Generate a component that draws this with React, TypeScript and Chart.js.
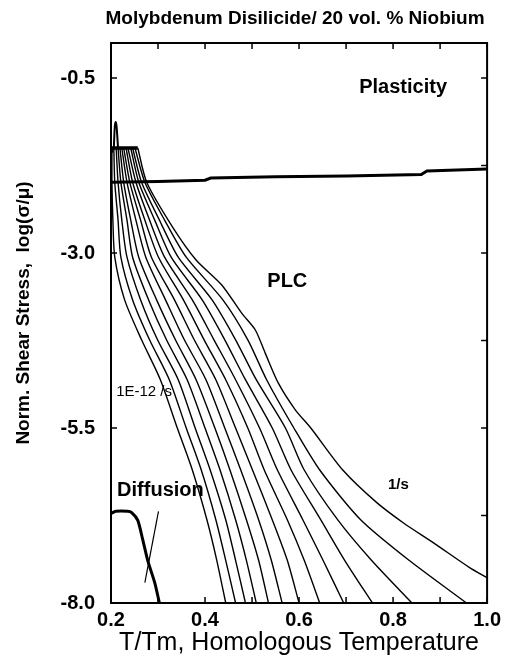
import { useEffect, useRef } from "react";
import { Chart, registerables } from "chart.js";

Chart.register(...registerables);

const FONT = '"Liberation Sans", Arial, Helvetica, sans-serif';

const titleText = "Molybdenum Disilicide/ 20 vol. % Niobium";
const xTitle = "T/Tm, Homologous Temperature";
const yTitle = "Norm. Shear Stress,  log(\u03c3/\u03bc)";

const xLabelTicks = [0.2, 0.4, 0.6, 0.8, 1.0];
const xMinorTicks = [0.2, 0.3, 0.4, 0.5, 0.6, 0.7, 0.8, 0.9, 1.0];
const yLabelTicks = [-8.0, -5.5, -3.0, -0.5];
const yRightTicks = [-8.0, -6.75, -5.5, -4.25, -3.0, -1.75, -0.5];

// stress levels at which the strain-rate contours were read
const rateLevels = [-1.5, -1.99, -2.53, -3.06, -3.67, -4.24, -4.81, -5.5, -6.1, -6.81, -7.39, -8.0];
// homologous temperature of each strain-rate contour at those levels
const rate1em12 = [0.202, 0.202, 0.204, 0.208, 0.229, 0.265, 0.305, 0.341, 0.373, 0.404, 0.425, 0.444];
const rate1em11 = [0.206, 0.208, 0.215, 0.221, 0.246, 0.282, 0.324, 0.36, 0.392, 0.423, 0.444, 0.465];
const rate1em10 = [0.211, 0.215, 0.223, 0.234, 0.263, 0.299, 0.343, 0.379, 0.411, 0.444, 0.465, 0.486];
const rate1em9 = [0.215, 0.221, 0.234, 0.246, 0.28, 0.318, 0.362, 0.4, 0.432, 0.465, 0.488, 0.509];
const rate1em8 = [0.219, 0.227, 0.242, 0.259, 0.297, 0.337, 0.381, 0.421, 0.453, 0.488, 0.514, 0.535];
const rate1em7 = [0.223, 0.234, 0.253, 0.274, 0.316, 0.356, 0.402, 0.442, 0.476, 0.514, 0.541, 0.564];
const rate1em6 = [0.227, 0.24, 0.263, 0.286, 0.335, 0.377, 0.423, 0.465, 0.501, 0.543, 0.575, 0.6];
const rate1em5 = [0.232, 0.246, 0.272, 0.301, 0.354, 0.398, 0.444, 0.491, 0.526, 0.575, 0.611, 0.644];
const rate1em4 = [0.236, 0.253, 0.282, 0.314, 0.373, 0.419, 0.465, 0.516, 0.554, 0.608, 0.651, 0.695];
const rate1em3 = [0.242, 0.259, 0.293, 0.328, 0.394, 0.442, 0.486, 0.543, 0.583, 0.646, 0.697, 0.756];
const rate1em2 = [0.246, 0.265, 0.303, 0.343, 0.415, 0.465, 0.509, 0.571, 0.611, 0.682, 0.754, 0.84];
const rate1em1 = [0.251, 0.272, 0.314, 0.36, 0.438, 0.491, 0.531, 0.589, 0.644, 0.731, 0.834, 0.956];
// the 1/s contour, read point by point
const rate1X = [0.257, 0.276, 0.331, 0.381, 0.436, 0.478, 0.507, 0.528, 0.556, 0.592, 0.625, 0.693, 0.766, 0.823, 0.886, 0.962, 1.0];
const rate1Y = [-1.5, -1.99, -2.63, -3.1, -3.46, -3.86, -4.1, -4.43, -4.86, -5.24, -5.5, -6.1, -6.57, -6.86, -7.14, -7.49, -7.64];

// plasticity boundary
const plastX = [0.2, 0.3, 0.4, 0.412, 0.55, 0.7, 0.86, 0.872, 1.0];
const plastY = [-1.99, -1.98, -1.96, -1.93, -1.91, -1.9, -1.88, -1.83, -1.8];
// plateau and spike at low temperature
const plateauX = [0.2, 0.204, 0.257];
const plateauY = [-1.56, -1.5, -1.5];
const spikeX = [0.206, 0.208, 0.21, 0.212, 0.215];
const spikeY = [-1.5, -1.2, -1.13, -1.2, -1.5];
// diffusion boundary
const diffX = [0.2, 0.21, 0.235, 0.244, 0.257, 0.267, 0.278, 0.293, 0.303];
const diffY = [-6.72, -6.69, -6.69, -6.71, -6.82, -7.08, -7.39, -7.71, -8.0];
// pointer line
const arrowX = [0.272, 0.301];
const arrowY = [-7.71, -6.69];

export default function App() {
  const ref = useRef<HTMLCanvasElement>(null);

  useEffect(() => {
    const canvas = ref.current;
    if (!canvas) return;
    const mk = (xs: number[], ys: number[]) => xs.map((x, i) => ({ x, y: ys[i] }));
    const line = (data: any, width: number, tension = 0.25) => ({
      data,
      borderColor: "#000",
      backgroundColor: "#000",
      borderWidth: width,
      pointRadius: 0,
      showLine: true,
      tension,
      fill: false,
    });
    const rateCurves = [
      rate1em12, rate1em11, rate1em10, rate1em9, rate1em8, rate1em7,
      rate1em6, rate1em5, rate1em4, rate1em3, rate1em2, rate1em1,
    ];
    const datasets: any[] = [
      ...rateCurves.map((xs) => line(mk(xs, rateLevels), 1.4)),
      line(mk(rate1X, rate1Y), 1.4),
      line(mk(plastX, plastY), 3, 0),
      line(mk(plateauX, plateauY), 3.5, 0),
      line(mk(spikeX, spikeY), 2, 0.2),
      line(mk(diffX, diffY), 3, 0.2),
      line(mk(arrowX, arrowY), 1.2, 0),
    ];

    const overlay = {
      id: "overlay",
      afterDraw(chart: any) {
        const { ctx, chartArea: a } = chart;
        const xs = chart.scales.x;
        const ys = chart.scales.y;
        ctx.save();
        ctx.strokeStyle = "#000";
        ctx.lineWidth = 2;
        ctx.strokeRect(a.left, a.top, a.right - a.left, a.bottom - a.top);
        ctx.lineWidth = 1.5;
        ctx.beginPath();
        xMinorTicks.forEach((v) => {
          const px = xs.getPixelForValue(v);
          ctx.moveTo(px, a.bottom);
          ctx.lineTo(px, a.bottom - 6);
          ctx.moveTo(px, a.top);
          ctx.lineTo(px, a.top + 6);
        });
        yLabelTicks.forEach((v) => {
          const py = ys.getPixelForValue(v);
          ctx.moveTo(a.left, py);
          ctx.lineTo(a.left + 6, py);
        });
        yRightTicks.forEach((v) => {
          const py = ys.getPixelForValue(v);
          ctx.moveTo(a.right, py);
          ctx.lineTo(a.right - 6, py);
        });
        ctx.stroke();

        ctx.fillStyle = "#000";
        // chart title
        ctx.font = `bold 19px ${FONT}`;
        ctx.textAlign = "center";
        ctx.textBaseline = "alphabetic";
        ctx.fillText(titleText, (a.left + a.right) / 2 - 4, 24);
        // x title
        ctx.font = `25px ${FONT}`;
        ctx.fillText(xTitle, (a.left + a.right) / 2, 650);
        // y title
        ctx.save();
        ctx.translate(24, 313);
        ctx.rotate(-Math.PI / 2);
        ctx.font = `bold 19px ${FONT}`;
        ctx.textBaseline = "middle";
        ctx.fillText(yTitle, 0, 0);
        ctx.restore();

        // region labels
        const label = (t: string, x: number, y: number, font: string, align: CanvasTextAlign) => {
          ctx.font = font;
          ctx.textAlign = align;
          ctx.textBaseline = "middle";
          ctx.fillText(t, xs.getPixelForValue(x), ys.getPixelForValue(y));
        };
        label("Plasticity", 0.728, -0.64, `bold 20px ${FONT}`, "left");
        label("PLC", 0.575, -3.4, `bold 20px ${FONT}`, "center");
        label("Diffusion", 0.213, -6.39, `bold 20px ${FONT}`, "left");
        label("1E-12 /s", 0.211, -4.99, `15px ${FONT}`, "left");
        label("1/s", 0.789, -6.31, `bold 15px ${FONT}`, "left");
        ctx.restore();
      },
    };

    const chart = new Chart(canvas, {
      type: "scatter",
      data: { datasets },
      options: {
        animation: false,
        responsive: false,
        devicePixelRatio: 1,
        layout: { padding: { top: 43, right: 15, left: 0, bottom: 0 } },
        plugins: {
          legend: { display: false },
          tooltip: { enabled: false },
          title: { display: false },
        },
        scales: {
          x: {
            type: "linear",
            position: "bottom",
            min: 0.2,
            max: 1.0,
            afterBuildTicks: (s: any) => {
              s.ticks = xLabelTicks.map((v) => ({ value: v }));
            },
            afterFit: (s: any) => {
              s.height = 53;
            },
            ticks: {
              callback: (v: any) => Number(v).toFixed(1),
              font: { family: FONT, size: 20, weight: "bold" },
              color: "#000",
              padding: 5,
              maxRotation: 0,
              autoSkip: false,
            },
            grid: { display: false, drawTicks: false },
            border: { display: false },
          },
          y: {
            type: "linear",
            position: "left",
            min: -8.0,
            max: 0,
            afterBuildTicks: (s: any) => {
              s.ticks = yLabelTicks.map((v) => ({ value: v }));
            },
            afterFit: (s: any) => {
              s.width = 111;
            },
            ticks: {
              callback: (v: any) => Number(v).toFixed(1),
              font: { family: FONT, size: 20, weight: "bold" },
              color: "#000",
              padding: 16,
              autoSkip: false,
            },
            grid: { display: false, drawTicks: false },
            border: { display: false },
          },
        },
      } as any,
      plugins: [overlay],
    });
    return () => chart.destroy();
  }, []);

  return (
    <div style={{ position: "absolute", left: 0, top: 0, width: 506, height: 656, background: "#fff" }}>
      <canvas ref={ref} width={506} height={656} style={{ display: "block" }} />
    </div>
  );
}
